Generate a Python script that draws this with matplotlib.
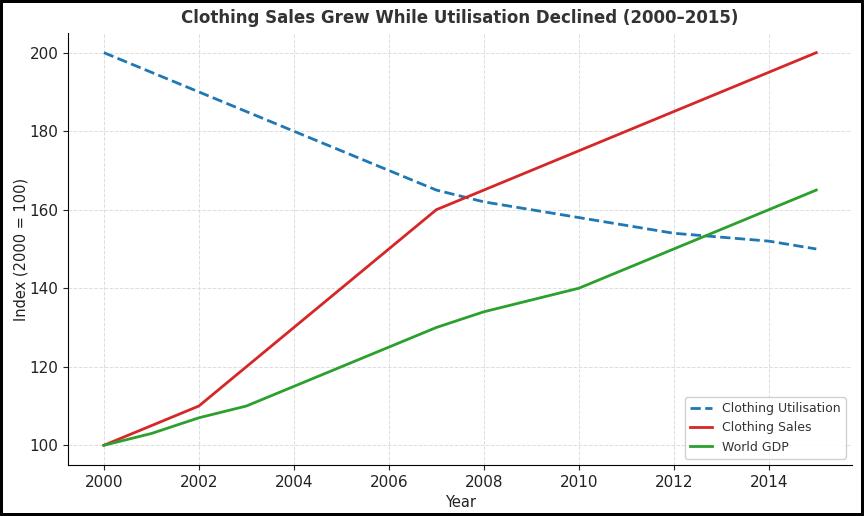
import matplotlib.pyplot as plt

years = list(range(2000, 2016))
utilisation = [200, 195, 190, 185, 180, 175, 170, 165, 162, 160, 158, 156, 154, 153, 152, 150]
sales = [100, 105, 110, 120, 130, 140, 150, 160, 165, 170, 175, 180, 185, 190, 195, 200]
gdp = [100, 103, 107, 110, 115, 120, 125, 130, 134, 137, 140, 145, 150, 155, 160, 165]

fig = plt.figure(figsize=(8.64, 5.16), dpi=100, edgecolor="black", linewidth=3)
ax = fig.add_axes([0.079, 0.099, 0.907, 0.837])

ax.plot(years, utilisation, linestyle="--", color="#1f77b4", linewidth=2, label="Clothing Utilisation")
ax.plot(years, sales, color="#d62728", linewidth=2, label="Clothing Sales")
ax.plot(years, gdp, color="#2ca02c", linewidth=2, label="World GDP")

ax.set_title("Clothing Sales Grew While Utilisation Declined (2000\u20132015)",
             fontsize=12, fontweight="bold", color="#333333", pad=7)
ax.set_xlabel("Year", fontsize=10.5, color="#222222")
ax.set_ylabel("Index (2000 = 100)", fontsize=10.5, color="#222222", labelpad=1)
ax.set_xticks(range(2000, 2016, 2))
ax.set_yticks(range(100, 201, 20))
ax.tick_params(labelsize=11, colors="#222222")
ax.grid(True, linestyle="--", color="#dddddd", linewidth=0.7)
ax.spines["top"].set_visible(False)
ax.spines["right"].set_visible(False)
ax.legend(loc="lower right", fontsize=9, framealpha=0.9, labelcolor="#333333",
          handlelength=1.8)

fig.savefig("out.png", dpi=100, edgecolor=fig.get_edgecolor())
